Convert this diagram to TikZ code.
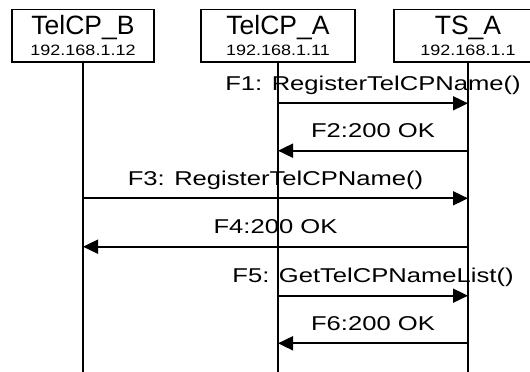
\documentclass[tikz,border=0pt]{standalone}
\usepackage{fontspec}
\usetikzlibrary{arrows.meta}

\newfontfamily\ttlfam{Liberation Sans}
\newfontfamily\widefam[FakeStretch=1.2]{Liberation Sans}
\newfontfamily\msgfam[FakeStretch=1.28]{Liberation Sans}
\newcommand\ttlfont{\ttlfam\fontsize{26.5}{30}\selectfont}
\newcommand\ipfont{\widefam\fontsize{15}{20.7}\selectfont}
\newcommand\msgfont{\msgfam\fontsize{20}{22}\selectfont}

\begin{document}
\begin{tikzpicture}[
	x=1pt, y=-1pt,
	actor/.style={
		draw, line width=1.8pt, rectangle,
		minimum height=52.5pt, inner sep=0pt,
		align=center, font=\ipfont
	},
	life/.style={line width=1.7pt},
	msg/.style={-{Triangle[length=15pt, width=14pt]}, line width=1.8pt},
	lbl/.style={font=\msgfont, anchor=base, yshift=13pt, inner sep=0pt},
	]
	
	\useasboundingbox (0,0) rectangle (530,372);
	\clip (0,0) rectangle (530,372);
	
	\node[actor, minimum width=142pt] (telcpB) at (83, 35.75)  {{\ttlfont TelCP\_B}\\192.168.1.12};
	\node[actor, minimum width=154pt] (telcpA) at (278, 35.75) {{\ttlfont TelCP\_A}\\192.168.1.11};
	\node[actor, minimum width=148pt] (tsA)    at (468, 35.75) {{\ttlfont TS\_A}\\192.168.1.1};
	
	% lifelines
	\coordinate (endB) at (83, 372);
	\coordinate (endA) at (278, 372);
	\coordinate (endT) at (468, 372);
	\draw[life] (telcpB.south) -- (endB);
	\draw[life] (telcpA.south) -- (endA);
	\draw[life] (tsA.south) -- (endT);
	
	% message rows
	\coordinate (f1) at (0, 103.3);
	\coordinate (f2) at (0, 150.7);
	\coordinate (f3) at (0, 198.3);
	\coordinate (f4) at (0, 246.7);
	\coordinate (f5) at (0, 295.7);
	\coordinate (f6) at (0, 343.3);
	
	\draw[msg] (telcpA.south |- f1) -- (tsA.south |- f1)
	node[lbl, midway] {F1: RegisterTelCPName()};
	\draw[msg] (tsA.south |- f2) -- (telcpA.south |- f2)
	node[lbl, midway] {F2:200 OK};
	\draw[msg] (telcpB.south |- f3) -- (tsA.south |- f3)
	node[lbl, midway] {F3: RegisterTelCPName()};
	\draw[msg] (tsA.south |- f4) -- (telcpB.south |- f4)
	node[lbl, midway] {F4:200 OK};
	\draw[msg] (telcpA.south |- f5) -- (tsA.south |- f5)
	node[lbl, midway] {F5: GetTelCPNameList()};
	\draw[msg] (tsA.south |- f6) -- (telcpA.south |- f6)
	node[lbl, midway] {F6:200 OK};
	
\end{tikzpicture}
\end{document}
